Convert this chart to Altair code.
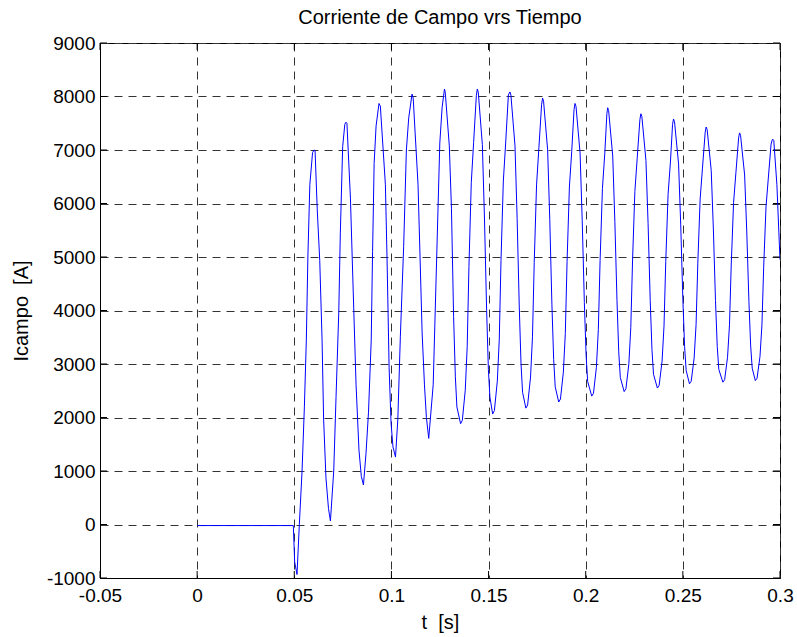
import altair as alt
import pandas as pd

# time [s] and field current [A]
t_s = [
    0.0000, 0.0495, 0.0502, 0.0514,
    0.0526, 0.0540, 0.0552, 0.0562, 0.0570, 0.0580, 0.0594, 0.0602, 0.0607,
    0.0618, 0.0631, 0.0643, 0.0651, 0.0663, 0.0676, 0.0686,
    0.0703, 0.0715, 0.0729, 0.0737, 0.0749, 0.0760, 0.0766, 0.0771,
    0.0789, 0.0806, 0.0818, 0.0833, 0.0845, 0.0856,
    0.0869, 0.0882, 0.0896, 0.0903, 0.0911, 0.0921, 0.0936, 0.0943,
    0.0969, 0.0978, 0.0988, 0.0998, 0.1008, 0.1021,
    0.1033, 0.1046, 0.1063, 0.1077, 0.1089, 0.1106, 0.1112,
    0.1137, 0.1158, 0.1170, 0.1180, 0.1192,
    0.1215, 0.1232, 0.1249, 0.1261, 0.1273,
    0.1277, 0.1298, 0.1309, 0.1320, 0.1329, 0.1337, 0.1356,
    0.1365, 0.1380, 0.1390, 0.1399, 0.1411, 0.1423, 0.1437, 0.1442,
    0.1447, 0.1468, 0.1479, 0.1490, 0.1499, 0.1507, 0.1521,
    0.1530, 0.1545, 0.1555, 0.1564, 0.1576, 0.1588, 0.1602, 0.1610,
    0.1615, 0.1636, 0.1647, 0.1658, 0.1667, 0.1675, 0.1692,
    0.1701, 0.1716, 0.1726, 0.1735, 0.1747, 0.1759, 0.1773, 0.1778,
    0.1783, 0.1804, 0.1815, 0.1826, 0.1835, 0.1843, 0.1861,
    0.1870, 0.1885, 0.1895, 0.1904, 0.1916, 0.1928, 0.1940, 0.1945,
    0.1950, 0.1971, 0.1982, 0.1993, 0.2002, 0.2010, 0.2031,
    0.2040, 0.2055, 0.2065, 0.2074, 0.2086, 0.2098, 0.2109, 0.2113,
    0.2118, 0.2139, 0.2150, 0.2161, 0.2170, 0.2178, 0.2198,
    0.2207, 0.2222, 0.2232, 0.2241, 0.2253, 0.2265, 0.2279, 0.2284,
    0.2289, 0.2310, 0.2321, 0.2332, 0.2341, 0.2349, 0.2369,
    0.2378, 0.2393, 0.2403, 0.2412, 0.2424, 0.2436, 0.2447, 0.2452,
    0.2457, 0.2478, 0.2489, 0.2500, 0.2509, 0.2517, 0.2534,
    0.2543, 0.2558, 0.2568, 0.2577, 0.2589, 0.2601, 0.2615, 0.2620,
    0.2625, 0.2646, 0.2657, 0.2668, 0.2677, 0.2685, 0.2706,
    0.2715, 0.2730, 0.2740, 0.2749, 0.2761, 0.2773, 0.2787, 0.2792,
    0.2797, 0.2818, 0.2829, 0.2840, 0.2849, 0.2857, 0.2873,
    0.2882, 0.2897, 0.2907, 0.2916, 0.2928, 0.2940, 0.2954, 0.2960, 0.2964,
    0.2968, 0.2984, 0.3000,
]
i_a = [
    -20, -20, -700, -935,
    0, 1000, 2200, 3450, 5000, 6350, 6950, 7000, 6990,
    5900, 4935, 3450, 1970, 870, 300, 65,
    1000, 2390, 3970, 5450, 7060, 7480, 7520, 7500,
    6100, 4030, 2610, 1390, 900, 740,
    1320, 2100, 3450, 5100, 6750, 7450, 7870, 7820,
    6350, 4870, 2940, 1900, 1450, 1260,
    1970, 3520, 5200, 7000, 7600, 8045, 7970,
    6350, 3580, 2610, 2000, 1610,
    2610, 4870, 7130, 7800, 8140,
    8080, 7076, 5900, 3886, 2760, 2197, 1884,
    1947, 2510, 3323, 4824, 6388, 7139, 8015, 8140,
    8080, 7100, 5710, 4000, 2900, 2380, 2065,
    2130, 2680, 3450, 4940, 6420, 7130, 8030, 8085,
    8026, 7080, 5721, 4066, 3002, 2471, 2175,
    2233, 2755, 3508, 4899, 6347, 7043, 7854, 7970,
    7913, 7004, 5698, 4108, 3085, 2574, 2290,
    2346, 2848, 3573, 4913, 6308, 6977, 7758, 7870,
    7815, 6940, 5682, 4150, 3166, 2674, 2400,
    2454, 2939, 3640, 4933, 6281, 6928, 7682, 7790,
    7737, 6888, 5668, 4182, 3227, 2749, 2484,
    2536, 3003, 3678, 4925, 6223, 6846, 7573, 7677,
    7626, 6805, 5626, 4191, 3268, 2806, 2550,
    2600, 3053, 3707, 4914, 6172, 6775, 7479, 7580,
    7530, 6739, 5600, 4214, 3323, 2878, 2630,
    2678, 3110, 3734, 4886, 6086, 6662, 7334, 7430,
    7382, 6619, 5522, 4186, 3328, 2899, 2660,
    2707, 3126, 3732, 4850, 6015, 6574, 7227, 7320,
    7274, 6533, 5468, 4172, 3338, 2922, 2690,
    2735, 3141, 3727, 4810, 5937, 6478, 7110, 7190, 7200,
    7180, 6350, 4950,
]

x_ticks = [-0.05, 0, 0.05, 0.1, 0.15, 0.2, 0.25, 0.3]
y_ticks = [-1000, 0, 1000, 2000, 3000, 4000, 5000, 6000, 7000, 8000, 9000]

title_text = "Corriente de Campo vrs Tiempo"
x_title = "t \u00a0[s]"
y_title = "Icampo \u00a0[A]"

W, H = 680, 535
FONT = "Liberation Sans"
TICK = 7

df = pd.DataFrame({"t": t_s, "I": i_a})
xt = pd.DataFrame({"t": x_ticks})
yt = pd.DataFrame({"I": y_ticks})

xscale = alt.Scale(domain=[-0.05, 0.3], nice=False, zero=False)
yscale = alt.Scale(domain=[-1000, 9000], nice=False, zero=False)

xaxis = alt.Axis(
    values=x_ticks, labelExpr="'' + datum.value", grid=True,
    gridDash=[8, 6], gridColor="#333333", gridWidth=1,
    ticks=False, domainColor="black", labelFont=FONT, labelFontSize=19,
    labelColor="black", labelPadding=8, labelFlush=False, labelOverlap=False,
    title=x_title, titleFont=FONT, titleFontSize=20, titleFontWeight="normal",
    titleColor="black", titleY=50, titleBaseline="alphabetic",
)
yaxis = alt.Axis(
    values=y_ticks, labelExpr="'' + datum.value", grid=True,
    gridDash=[8, 6], gridColor="#333333", gridWidth=1,
    ticks=False, domainColor="black", labelFont=FONT, labelFontSize=19,
    labelColor="black", labelPadding=5, labelFlush=False, labelOverlap=False,
    title=y_title, titleFont=FONT, titleFontSize=20, titleFontWeight="normal",
    titleColor="black", titleX=-73, titleBaseline="alphabetic",
)

X = alt.X("t:Q", scale=xscale, axis=xaxis)
Y = alt.Y("I:Q", scale=yscale, axis=yaxis)

line = alt.Chart(df).mark_line(color="#0000ff", strokeWidth=1, clip=True).encode(
    x=X, y=Y,
)

tick_bottom = alt.Chart(xt).mark_rule(color="black", strokeWidth=1).encode(
    x=X, y=alt.value(H), y2=alt.value(H - TICK),
)
tick_top = alt.Chart(xt).mark_rule(color="black", strokeWidth=1).encode(
    x=X, y=alt.value(0), y2=alt.value(TICK),
)
tick_left = alt.Chart(yt).mark_rule(color="black", strokeWidth=1).encode(
    y=Y, x=alt.value(0), x2=alt.value(TICK),
)
tick_right = alt.Chart(yt).mark_rule(color="black", strokeWidth=1).encode(
    y=Y, x=alt.value(W), x2=alt.value(W - TICK),
)

chart = alt.layer(tick_bottom, tick_top, tick_left, tick_right, line).properties(
    width=W, height=H,
    title=alt.TitleParams(
        title_text, font=FONT, fontSize=20, fontWeight="normal", color="black",
        offset=6, baseline="top", anchor="middle",
    ),
    padding={"left": 100, "top": 43, "right": 17, "bottom": 59},
    autosize="none",
    background="white",
).configure_view(stroke="black", strokeWidth=1)

chart.save("out.html", embed_options={"renderer": "svg", "actions": False})
